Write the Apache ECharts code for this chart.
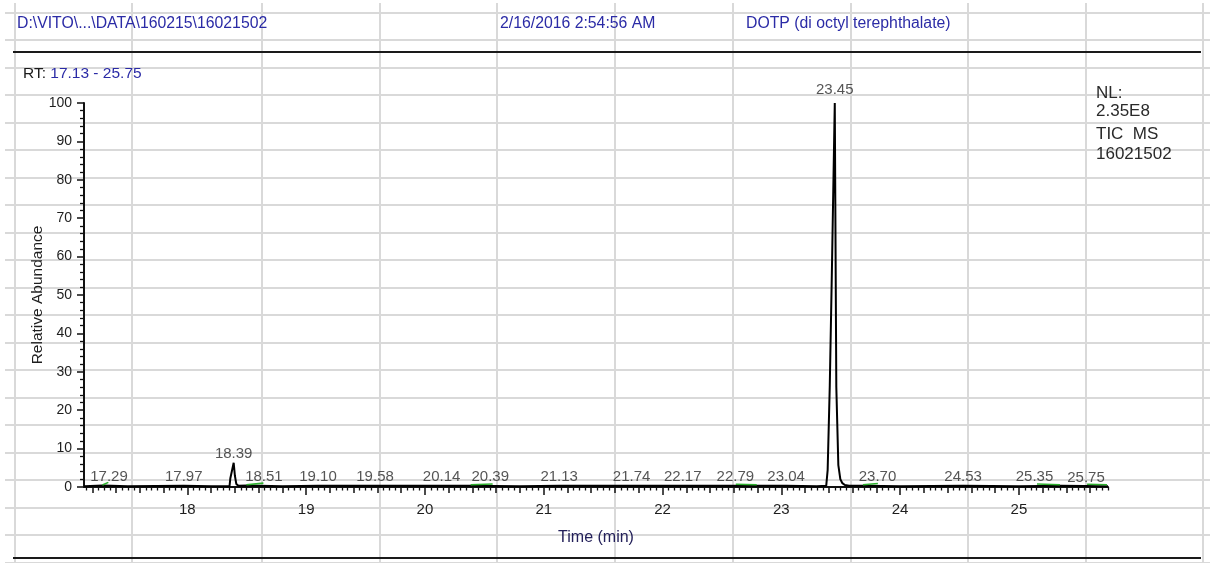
<!DOCTYPE html>
<html>
<head>
<meta charset="utf-8">
<script src="https://cdn.jsdelivr.net/npm/echarts@6/dist/echarts.min.js"></script>
<style>
  html, body { margin: 0; padding: 0; background: #ffffff; }
  #chart { width: 1210px; height: 563px; }
</style>
</head>
<body>
<div id="chart"></div>
<script>
// ---- Chromatogram data (TIC MS, 16021502) ----
const rtRange = [17.13, 25.75];
const xTickLabels = [18, 19, 20, 21, 22, 23, 24, 25];
const yTickLabels = [0, 10, 20, 30, 40, 50, 60, 70, 80, 90, 100];

// retention time (min) / relative abundance (%)
const traceTime = [
  17.13, 17.29, 17.50, 17.97, 18.20, 18.355, 18.362, 18.375, 18.39, 18.40,
  18.412, 18.43, 18.51, 18.80, 19.10, 19.58, 20.14, 20.39, 20.80, 21.13,
  21.74, 22.17, 22.79, 23.04, 23.30, 23.378, 23.39, 23.408, 23.425, 23.45,
  23.463, 23.48, 23.497, 23.514, 23.535, 23.57, 23.70, 24.00, 24.53, 25.00,
  25.35, 25.75
];
const traceAbundance = [
  0.2, 0.4, 0.2, 0.3, 0.2, 0.2, 2.3, 2.5, 6.3, 3.0,
  0.8, 0.3, 0.4, 0.2, 0.3, 0.3, 0.3, 0.3, 0.2, 0.3,
  0.3, 0.3, 0.3, 0.3, 0.2, 0.3, 4.4, 26.5, 55, 100,
  26, 5.7, 2.0, 1.0, 0.5, 0.3, 0.3, 0.2, 0.3, 0.2,
  0.3, 0.2
];

// labelled peak apex times (min)
const peakTimes = [
  17.29, 17.97, 18.39, 18.51, 19.10, 19.58, 20.14, 20.39, 21.13,
  21.74, 22.17, 22.79, 23.04, 23.45, 23.70, 24.53, 25.35, 25.75
];

// integration baselines: start / end time and level
const baseStart      = [17.285, 18.497, 20.385, 22.617, 23.687, 25.152, 25.574];
const baseEnd        = [17.335, 18.640, 20.570, 22.793, 23.813, 25.346, 25.742];
const baseStartLevel = [0.5, 0.6, 0.6, 0.7, 0.6, 0.8, 0.7];
const baseEndLevel   = [1.2, 1.0, 0.8, 0.6, 0.9, 0.6, 0.6];

// header / annotation texts
const filePath = 'D:\\VITO\\...\\DATA\\160215\\16021502';
const acquired = '2/16/2016 2:54:56 AM';
const sampleName = 'DOTP (di octyl terephthalate)';
const infoLines = ['NL:', '2.35E8', 'TIC  MS', '16021502'];

// ---- build ----
const FONT = '"Liberation Sans", Arial, "DejaVu Sans", sans-serif';
const traceData = traceTime.map((t, i) => [t, traceAbundance[i]]);

function abundanceAt(t) {
  const i = traceTime.findIndex(v => Math.abs(v - t) < 1e-9);
  return i >= 0 ? traceAbundance[i] : 0;
}

// label nudges for labels that sit beside crowded baselines
const labelNudge = { 17.29: 6, 18.51: 16, 20.39: 19, 22.79: -21, 23.70: 13, 25.35: -26, 25.75: -22 };
const labelLift = { 23.45: 5 };

const peakLabelData = peakTimes.map(t => ({
  value: [t, abundanceAt(t)],
  label: {
    offset: [labelNudge[t] || 0, -(labelLift[t] || 0)]
  }
}));

const baselineData = [];
baseStart.forEach((s, i) => {
  baselineData.push([s, baseStartLevel[i]]);
  baselineData.push([baseEnd[i], baseEndLevel[i]]);
  baselineData.push(['-', '-']);
});

// tick positions
const midTicks = [];
const smallTicks = [];
for (let k = 343; k <= 515; k++) {
  const t = Math.round(k * 5) / 100;
  if (t < rtRange[0] || t > rtRange[1]) continue;
  if (k % 20 === 0) continue;
  if (k % 4 === 0) midTicks.push(t); else smallTicks.push(t);
}

// spreadsheet cell lines behind the chart
const gridColor = '#d9d9d9';
const cellXs = [15, 132, 262, 380, 497, 615, 733, 851, 968, 1086, 1203];
const cellLines = [];
cellXs.forEach(x => cellLines.push({
  type: 'line', z: -10, silent: true,
  shape: { x1: x, y1: 3, x2: x, y2: 563 },
  style: { stroke: gridColor, lineWidth: 2 }
}));
for (let y = 12.7; y < 563; y += 27.5) {
  cellLines.push({
    type: 'line', z: -10, silent: true,
    shape: { x1: 5, y1: Math.round(y), x2: 1210, y2: Math.round(y) },
    style: { stroke: gridColor, lineWidth: 2 }
  });
}

const headerBlue = '#2b2ba6';
const textGraphics = [
  { type: 'line', z: 5, shape: { x1: 13, y1: 52, x2: 1201, y2: 52 }, style: { stroke: '#1a1a1a', lineWidth: 2 } },
  { type: 'line', z: 5, shape: { x1: 13, y1: 558, x2: 1201, y2: 558 }, style: { stroke: '#1a1a1a', lineWidth: 2 } },
  { type: 'text', z: 5, left: 17, top: 16, style: { text: filePath, font: '15.8px ' + FONT, fill: headerBlue } },
  { type: 'text', z: 5, left: 500, top: 16, style: { text: acquired, font: '15.8px ' + FONT, fill: headerBlue } },
  { type: 'text', z: 5, left: 746, top: 16, style: { text: sampleName, font: '15.8px ' + FONT, fill: headerBlue } },
  {
    type: 'text', z: 5, left: 23, top: 66,
    style: {
      text: '{k|RT:} {v|' + rtRange[0].toFixed(2) + ' - ' + rtRange[1].toFixed(2) + '}',
      font: '15.5px ' + FONT,
      rich: {
        k: { fill: '#1a1a1a', font: '15.5px ' + FONT },
        v: { fill: headerBlue, font: '15.5px ' + FONT }
      }
    }
  }
];
infoLines.forEach((s, i) => textGraphics.push({
  type: 'text', z: 5, left: 1096, top: [85, 103, 126, 146][i],
  style: { text: s, font: '17px ' + FONT, fill: '#2a2a2a' }
}));

const baseXAxis = {
  type: 'value', min: rtRange[0], max: rtRange[1], position: 'bottom',
  splitLine: { show: false }
};

const option = {
  animation: false,
  backgroundColor: '#ffffff',
  grid: { left: 84, right: 102, top: 103, bottom: 76, containLabel: false },
  xAxis: [
    Object.assign({}, baseXAxis, {
      name: 'Time (min)', nameLocation: 'middle', nameGap: 43, nameMoveOverlap: false,
      nameTextStyle: { color: '#23205a', fontSize: 16, fontFamily: FONT },
      axisLine: { show: true, lineStyle: { color: '#111', width: 2 } },
      axisTick: { show: true, length: 8, customValues: xTickLabels, lineStyle: { color: '#111', width: 1.5 } },
      axisLabel: { show: true, customValues: xTickLabels, margin: 15, color: '#1e1e1e', fontSize: 15, fontFamily: FONT }
    }),
    Object.assign({}, baseXAxis, {
      axisLine: { show: false },
      axisTick: { show: true, length: 6, customValues: midTicks, lineStyle: { color: '#111', width: 1.5 } },
      axisLabel: { show: false }
    }),
    Object.assign({}, baseXAxis, {
      axisLine: { show: false },
      axisTick: { show: true, length: 3.5, customValues: smallTicks, lineStyle: { color: '#111', width: 1.3 } },
      axisLabel: { show: false }
    })
  ],
  yAxis: {
    type: 'value', min: yTickLabels[0], max: yTickLabels[yTickLabels.length - 1], interval: 10,
    name: 'Relative Abundance', nameLocation: 'middle', nameGap: 38, nameRotate: 90, nameMoveOverlap: false,
    nameTextStyle: { color: '#1e1e1e', fontSize: 15.5, fontFamily: FONT },
    axisLine: { show: true, lineStyle: { color: '#111', width: 2 } },
    axisTick: { show: true, length: 7, lineStyle: { color: '#111', width: 1.5 } },
    minorTick: { show: true, splitNumber: 5, length: 4, lineStyle: { color: '#111', width: 1.3 } },
    axisLabel: { margin: 12, color: '#1e1e1e', fontSize: 14, fontFamily: FONT },
    splitLine: { show: false }
  },
  graphic: cellLines.concat(textGraphics),
  series: [
    {
      name: 'TIC', type: 'line', xAxisIndex: 0, data: traceData,
      showSymbol: false, symbol: 'none', z: 4,
      lineStyle: { color: '#000', width: 2 }
    },
    {
      name: 'baseline', type: 'line', xAxisIndex: 0, data: baselineData,
      showSymbol: false, symbol: 'none', connectNulls: false, z: 5,
      lineStyle: { color: '#2fb02f', width: 1.6 }
    },
    {
      name: 'peaks', type: 'scatter', xAxisIndex: 0, data: peakLabelData,
      symbolSize: 0, z: 6,
      label: {
        show: true, position: 'top', distance: 1,
        color: '#2a2a2a', fontSize: 15, fontFamily: FONT,
        formatter: p => p.value[0].toFixed(2)
      }
    }
  ]
};

const chart = echarts.init(document.getElementById('chart'), null, { renderer: 'canvas' });
chart.setOption(option);
</script>
</body>
</html>
